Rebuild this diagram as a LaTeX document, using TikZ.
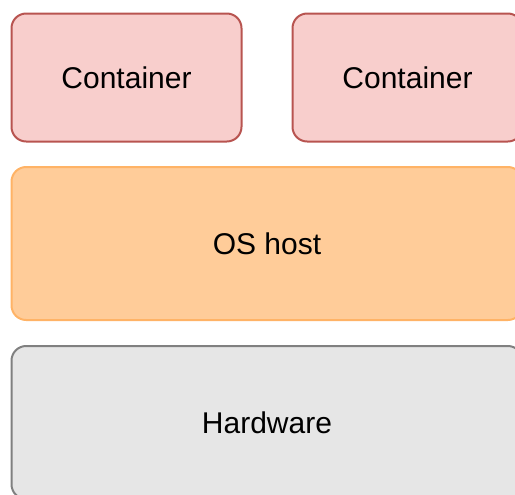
\documentclass[tikz,border=0pt]{standalone}
\usepackage{fontspec}
\setmainfont{Liberation Sans}
\usetikzlibrary{positioning}

\definecolor{ctrfill}{HTML}{F8CECC}
\definecolor{ctrline}{HTML}{B85450}
\definecolor{osfill}{HTML}{FFCC99}
\definecolor{osline}{HTML}{FFB366}
\definecolor{hwfill}{HTML}{E6E6E6}
\definecolor{hwline}{HTML}{808080}

\tikzset{
  layer/.style={rounded corners=11pt, line width=1.5pt, align=center,
    font=\fontsize{22.5}{27}\selectfont, inner sep=0pt},
  ctrbox/.style={layer, fill=ctrfill, draw=ctrline,
    minimum width=172.5pt, minimum height=96pt},
  osbox/.style={layer, fill=osfill, draw=osline,
    minimum width=383.25pt, minimum height=114.75pt},
  hwbox/.style={layer, fill=hwfill, draw=hwline,
    minimum width=383.25pt, minimum height=114.75pt},
}

\begin{document}
\begin{tikzpicture}[x=0.75pt, y=-0.75pt]
  \useasboundingbox (0,0) rectangle (515,494);
  \clip (0,0) rectangle (515,494);
  % containers on top of the host
  \node[ctrbox] (ctrA) at (126.5,77.5) {Container};
  \node[ctrbox] (ctrB) at (407.5,77.5) {Container};
  % host os and the machine under it
  \node[osbox] (host) at (267,243.5) {OS host};
  \node[hwbox] (hw) at (267,422.5) {Hardware};
\end{tikzpicture}
\end{document}
